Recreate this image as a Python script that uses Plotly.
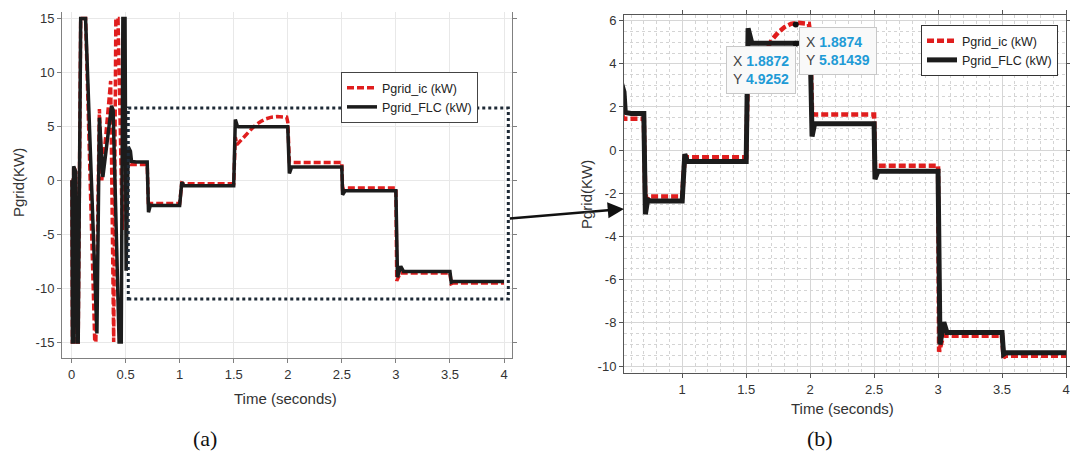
import plotly.graph_objects as go

# ---------------- data ----------------
t_flc = [0.0, 0.004, 0.008, 0.016, 0.02, 0.03, 0.038, 0.05, 0.062, 0.085, 0.13,
         0.235, 0.258, 0.29, 0.37, 0.385, 0.44, 0.46, 0.475, 0.495, 0.505, 0.525,
         0.545, 0.555, 0.6, 0.7, 0.712, 0.73, 0.75, 1.0, 1.02, 1.04, 1.5, 1.515,
         1.535, 1.545, 2.0, 2.015, 2.035, 2.5, 2.507, 2.53, 3.0, 3.015, 3.045,
         3.07, 3.5, 3.512, 3.53, 4.0]
p_flc = [0.0, 0.0, -15.0, -15.0, 1.3, 1.0, 0.8, -15.0, -15.0, 15.0, 15.0,
         -14.2, 5.8, 0.3, 6.9, 6.5, -15.0, -15.0, 15.0, 15.0, -8.4, 3.1,
         2.7, 1.75, 1.7, 1.7, -2.97, -2.3, -2.35, -2.35, -0.18, -0.52, -0.52, 5.64,
         4.98, 4.95, 4.95, 0.63, 1.22, 1.22, -1.34, -0.98, -0.98, -9.0, -7.97,
         -8.45, -8.45, -9.45, -9.38, -9.38]

t_ic = [0.0, 0.004, 0.008, 0.016, 0.02, 0.03, 0.038, 0.05, 0.062, 0.085, 0.13,
        0.215, 0.225, 0.258, 0.28, 0.362, 0.39, 0.41, 0.43, 0.47, 0.5, 0.53,
        0.545, 0.7, 0.712, 0.73, 1.0, 1.02, 1.04, 1.5, 1.515, 1.53, 1.6, 1.65,
        1.7, 1.75, 1.8, 1.85, 1.9, 1.95, 1.99, 2.0, 2.015, 2.035, 2.5, 2.507,
        2.53, 3.0, 3.008, 3.04, 3.5, 3.512, 3.53, 4.0]
p_ic = [0.0, 0.0, -15.0, -15.0, 1.3, 1.0, 0.8, -15.0, -15.0, 15.0, 15.0,
        -15.0, -15.0, 6.6, 0.0, 9.2, -15.0, 15.0, 15.0, -4.6, 2.0, 1.6,
        1.45, 1.45, -2.5, -2.15, -2.15, -0.25, -0.33, -0.33, 4.0, 3.3, 4.1, 4.6,
        5.1, 5.45, 5.7, 5.85, 5.9, 5.88, 5.85, 5.4, 1.7, 1.65, 1.65, -0.8,
        -0.72, -0.72, -9.33, -8.6, -8.6, -9.6, -9.52, -9.52]

tip_x = [1.8872, 1.8874]
tip_y = [4.9252, 5.81439]

left_xticks = [0, 0.5, 1, 1.5, 2, 2.5, 3, 3.5, 4]
left_yticks = [-15, -10, -5, 0, 5, 10, 15]
right_xticks = [1, 1.5, 2, 2.5, 3, 3.5, 4]
right_yticks = [-10, -8, -6, -4, -2, 0, 2, 4, 6]

name_ic = "Pgrid_ic (kW)"
name_flc = "Pgrid_FLC (kW)"
y_title = "Pgrid(KW)"
x_title = "Time (seconds)"

# ---------------- layout geometry ----------------
W, H = 1070, 461
L_X = (62, 512)   # pixel extents of left axes box
L_Y = (12, 358)
R_X = (624, 1066)
R_Y = (15, 373)
L_XR = [-0.088, 4.074]
L_YR = [-16.48, 15.6]
R_XR = [0.545, 4.0]
R_YR = [-10.32, 6.26]

def dom_x(px):
    return [px[0] / W, px[1] / W]

def dom_y(py):
    return [1 - py[1] / H, 1 - py[0] / H]

def to_px(x, y, px, py, xr, yr):
    fx = (x - xr[0]) / (xr[1] - xr[0])
    fy = (y - yr[0]) / (yr[1] - yr[0])
    return px[0] + fx * (px[1] - px[0]), py[1] - fy * (py[1] - py[0])

RED = "#e01e1e"
BLK = "#1c1c1c"
FONT = "Liberation Sans, Arial, sans-serif"
DASH = "7px,3px"

fig = go.Figure()

# left panel
fig.add_trace(go.Scatter(x=t_ic, y=p_ic, mode="lines", name=name_ic,
                         line=dict(color=RED, width=3.5, dash=DASH),
                         xaxis="x", yaxis="y", legend="legend"))
fig.add_trace(go.Scatter(x=t_flc, y=p_flc, mode="lines", name=name_flc,
                         line=dict(color=BLK, width=3.5),
                         xaxis="x", yaxis="y", legend="legend"))
# right panel
fig.add_trace(go.Scatter(x=t_ic, y=p_ic, mode="lines", name=name_ic,
                         line=dict(color=RED, width=4.5, dash=DASH),
                         xaxis="x2", yaxis="y2", legend="legend2"))
fig.add_trace(go.Scatter(x=t_flc, y=p_flc, mode="lines", name=name_flc,
                         line=dict(color=BLK, width=5),
                         xaxis="x2", yaxis="y2", legend="legend2"))
fig.add_trace(go.Scatter(x=tip_x, y=tip_y, mode="markers", showlegend=False,
                         marker=dict(color="#111", size=6),
                         xaxis="x2", yaxis="y2"))

ax_common = dict(showline=True, ticks="outside", ticklen=4, zeroline=False,
                 automargin=False,
                 tickfont=dict(family=FONT, size=13, color="#333"))

fig.update_layout(
    width=W, height=H,
    margin=dict(l=0, r=0, t=0, b=0, autoexpand=False),
    paper_bgcolor="white", plot_bgcolor="white",
    font=dict(family=FONT, size=13, color="#222"),
    xaxis=dict(domain=dom_x(L_X), range=L_XR, anchor="y", tickvals=left_xticks,
               ticktext=[f"{v:g}" for v in left_xticks],
               linecolor="#808080", tickcolor="#808080", mirror=False,
               showgrid=True, gridcolor="#e8e8e8", **ax_common),
    yaxis=dict(domain=dom_y(L_Y), range=L_YR, anchor="x", tickvals=left_yticks,
               ticktext=[f"{v:g}" for v in left_yticks],
               linecolor="#808080", tickcolor="#808080", mirror="ticks",
               showgrid=True, gridcolor="#e8e8e8", **ax_common),
    xaxis2=dict(domain=dom_x(R_X), range=R_XR, anchor="y2", tickvals=right_xticks,
                ticktext=[f"{v:g}" for v in right_xticks],
                linecolor="#555", tickcolor="#555", mirror="ticks",
                showgrid=True, gridcolor="#d6d6d6",
                minor=dict(dtick=0.1, tick0=0, showgrid=True, gridcolor="#d4d4d4",
                           griddash="dot", ticks=""),
                **ax_common),
    yaxis2=dict(domain=dom_y(R_Y), range=R_YR, anchor="x2", tickvals=right_yticks,
                ticktext=[f"{v:g}" for v in right_yticks],
                linecolor="#555", tickcolor="#555", mirror="ticks",
                showgrid=True, gridcolor="#d6d6d6",
                minor=dict(dtick=0.5, tick0=0, showgrid=True, gridcolor="#d4d4d4",
                           griddash="dot", ticks=""),
                **ax_common),
    legend=dict(x=341 / W, y=1 - 72 / H, xanchor="left", yanchor="top",
                bgcolor="white", bordercolor="#444", borderwidth=1,
                font=dict(family=FONT, size=12.5, color="#222"),
                tracegroupgap=0),
    legend2=dict(x=921 / W, y=1 - 25 / H, xanchor="left", yanchor="top",
                 bgcolor="white", bordercolor="#333", borderwidth=1,
                 font=dict(family=FONT, size=12.5, color="#222"),
                 tracegroupgap=0),
)

# dotted zoom rectangle on left panel
rect_x = [0.525, 4.04]
rect_y = [-11.0, 6.7]
fig.add_shape(type="rect", xref="x", yref="y", x0=rect_x[0], x1=rect_x[1],
              y0=rect_y[0], y1=rect_y[1],
              line=dict(color="#1e2a36", width=3, dash="dot"), layer="above")

# arrow from rectangle to right panel
tpx, tpy = to_px(rect_x[1], -3.55, L_X, L_Y, L_XR, L_YR)
hpx, hpy = to_px(R_XR[0], -2.72, R_X, R_Y, R_XR, R_YR)
fig.add_annotation(x=hpx / W, y=1 - hpy / H, xref="paper", yref="paper",
                   ax=tpx - hpx, ay=tpy - hpy, axref="pixel", ayref="pixel",
                   showarrow=True, arrowhead=2, arrowsize=1.3, arrowwidth=2.5,
                   arrowcolor="#111", text="")

def label(x, y, text, size=15, angle=0, family=FONT, color="#333"):
    fig.add_annotation(x=x / W, y=1 - y / H, xref="paper", yref="paper", text=text,
                       textangle=angle, showarrow=False, xanchor="center",
                       yanchor="middle", font=dict(family=family, size=size, color=color))

# datatips
BLUE = "#1f9bd6"
def tip_text(x, y):
    return (f"<span style='color:#444'>X</span> <b><span style='color:{BLUE}'>{x}</span></b><br>"
            f"<span style='color:#444'>Y</span> <b><span style='color:{BLUE}'>{y}</span></b>")

for (cx, cy, xs, ys) in [(761, 70, "1.8872", "4.9252"), (837.5, 50.5, "1.8874", "5.81439")]:
    fig.add_annotation(x=cx / W, y=1 - cy / H, xref="paper", yref="paper",
                       text=tip_text(xs, ys), showarrow=False, align="left",
                       xanchor="center", yanchor="middle",
                       font=dict(family=FONT, size=14), bgcolor="#f9f9f9",
                       bordercolor="#c8c8c8", borderwidth=1, borderpad=6)

# axis titles
label(18, 183, y_title, angle=-90)
label(586, 195, y_title, angle=-90)
label(285, 398, x_title)
label(842, 408, x_title)

# panel labels
SERIF = "Liberation Serif, Times New Roman, serif"
label(205, 438, "(a)", size=22, family=SERIF, color="#111")
label(820, 438, "(b)", size=22, family=SERIF, color="#111")

fig.write_html("out.html", config={"displayModeBar": False},
               post_script="document.body.style.margin='0px';document.body.style.overflow='hidden';")
